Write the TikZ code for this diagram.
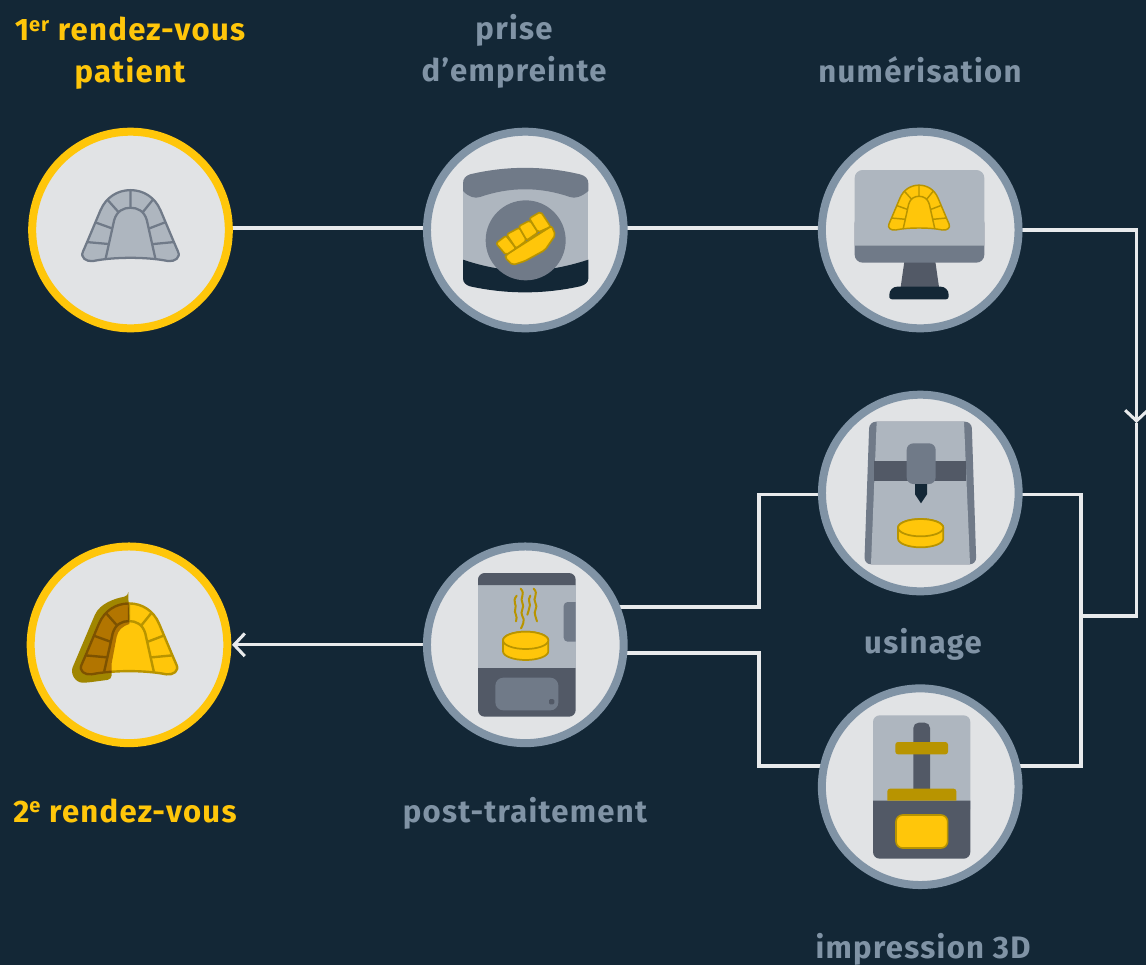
\documentclass[tikz,border=0pt]{standalone}
\usepackage{fontspec}
\setmainfont{Fira Sans}[LetterSpace=4.2]
\usetikzlibrary{arrows.meta,backgrounds,calc}
\definecolor{navy}{HTML}{132736}
\definecolor{ring}{HTML}{8093A5}
\definecolor{disk}{HTML}{E1E3E5}
\definecolor{lightg}{HTML}{AEB6BF}
\definecolor{midg}{HTML}{707A88}
\definecolor{darkg}{HTML}{525966}
\definecolor{gold}{HTML}{FFC60A}
\definecolor{olive}{HTML}{B89400}
\definecolor{wire}{HTML}{E8EAEC}
\definecolor{brown}{HTML}{B27500}
\definecolor{oliveb}{HTML}{A08600}
\tikzset{
  from/.style 2 args={shift={(#1,#2)},x=0.25pt,y=-0.25pt},
  stepdisk/.style={circle,draw=ring,fill=disk,line width=6pt,minimum size=147.5pt,inner sep=0pt,outer sep=0pt},
  keydisk/.style={stepdisk,draw=gold},
  conn/.style={draw=wire,line width=2.3pt,line join=miter},
  barb/.style={-{Straight Barb[length=8pt,width=17pt,line width=2.3pt]}},
  graylabel/.style={text=ring,font=\fontsize{23.3}{31.5}\selectfont\bfseries,align=center,inner sep=0pt},
  goldlabel/.style={graylabel,text=gold},
  cyl/.style={fill=gold,draw=olive,line width=1.3pt},
  steam/.style={draw=olive,line width=1.5pt,line cap=round},
}
\newcommand\archshape[2]{%
  \path[#1] (-114,105) .. controls (-135,108) and (-155,95) .. (-145,75) -- (-132,45) -- (-92,-50)
    .. controls (-75,-90) and (-40,-112) .. (0,-112) .. controls (40,-112) and (75,-90) .. (92,-50)
    -- (132,45) -- (145,75) .. controls (155,95) and (135,108) .. (114,105)
    .. controls (50,92) and (-50,92) .. (-114,105) -- cycle;
  \path[#2] (-76,97) -- (-50,-20) .. controls (-42,-48) and (-22,-58) .. (0,-58)
    .. controls (22,-58) and (42,-48) .. (50,-20) -- (76,97)
    (0,-112) -- (0,-58) (-70,-82) -- (-37,-45) (68,-82) -- (38,-45)
    (-107,-13) -- (-57,5) (105,-13) -- (58,5) (-134,47) -- (-67,53) (133,47) -- (70,53);
}
\newcommand\archicon[6]{%
  \begin{scope}[shift={(#1,#2)},x=#3*0.25pt,y=-#3*0.25pt,line join=round]
    \archshape{fill=#4,draw=#5,line width=#6}{draw=#5,line width=#6}
  \end{scope}}
\newcommand\sups[1]{\raisebox{0.55ex}{\fontsize{15}{15}\selectfont #1}}
\begin{document}
\begin{tikzpicture}[x=0.75pt,y=-0.75pt]
\useasboundingbox (0,0) rectangle (1146,965);
% disks
\node[keydisk]  (n1) at (130.5,230) {};
\node[stepdisk] (n2) at (525.3,230) {};
\node[stepdisk] (n3) at (920.2,230) {};
\node[stepdisk] (n4) at (920.3,493) {};
\node[stepdisk] (n5) at (920.2,786.7) {};
\node[stepdisk] (n6) at (525.3,644.8) {};
\node[keydisk]  (n7) at (129,644.8) {};
\coordinate (junction) at (1081,616);
\coordinate (corner) at (1136.5,230);
\coordinate (mark) at (1136.5,423);
\coordinate (low) at (1136.5,616);
\coordinate (jt) at (1081,494.5);
\coordinate (jb) at (1081,766);
\coordinate (ua) at (759,494.5);
\coordinate (ub) at (759,607);
\coordinate (ia) at (759,766);
\coordinate (ib) at (759,653);
\coordinate (tip7) at (232,644.8);
% connectors
\begin{scope}[on background layer]
  \fill[navy] (0,0) rectangle (1146,965);
  \draw[conn] (n1.center |- 0,228) -- (n2.center |- 0,228);
  \draw[conn] (n2.center |- 0,228) -- (n3.center |- 0,228);
  \draw[conn,barb] (n3.center |- corner) -- (corner) -- (mark);
  \draw[conn] (mark) -- (low) -- (junction);
  \draw[conn] (n4.center |- jt) -- (jt) -- (jb) -- (n5.center |- jb);
  \draw[conn] (n4.center |- ua) -- (ua) -- (ub) -- (n6.center |- ub);
  \draw[conn] (n5.center |- ia) -- (ia) -- (ib) -- (n6.center |- ib);
  \draw[conn,barb] (n6.center) -- (tip7);
\end{scope}
% icon 1
\archicon{130.5}{226.7}{0.98}{lightg}{midg}{1.7pt}
% icon 2
\begin{scope}[from={410}{115}]
  \fill[lightg] (159,200) rectangle (535,490);
  \fill[midg] (159,205) .. controls (159,190) and (168,182) .. (180,178) .. controls (290,152) and (400,152) .. (510,178)
     .. controls (525,182) and (535,190) .. (535,205) -- (535,228) .. controls (515,245) and (495,252) .. (480,246)
     .. controls (390,215) and (300,215) .. (210,246) .. controls (195,252) and (175,245) .. (159,228) -- cycle;
  \fill[navy] (159,434) .. controls (290,478) and (400,478) .. (535,434) -- (535,490) .. controls (535,503) and (525,510) .. (510,514)
     .. controls (400,538) and (290,538) .. (180,514) .. controls (168,510) and (159,503) .. (159,490) -- cycle;
  \fill[midg] (347,376) circle[radius=120];
  \begin{scope}[draw=olive,fill=gold,line width=1.2pt,line join=round]
    \filldraw[rounded corners=1.5pt] (288,420) -- (425,333) -- (436,360) -- (405,405) -- (345,438) -- (308,450) -- (285,428) -- cycle;
    \filldraw[rounded corners=1.5pt] (258,385) -- (288,362) -- (318,400) -- (288,420) -- cycle;
    \filldraw[rounded corners=1.5pt] (290,358) -- (328,338) -- (350,376) -- (318,400) -- cycle;
    \filldraw[rounded corners=1.5pt] (326,334) -- (360,316) -- (384,352) -- (350,376) -- cycle;
    \filldraw[rounded corners=1.5pt] (358,310) -- (392,290) -- (422,335) -- (384,352) -- cycle;
  \end{scope}
\end{scope}
% icon 3
\begin{scope}[from={810}{115}]
  \fill[darkg] (283,440) -- (376,440) -- (387,516) -- (272,516) -- cycle;
  \fill[midg,rounded corners=6pt] (134,300) rectangle (523,443);
  \fill[lightg] (134,392) [rounded corners=6pt] -- (134,165) -- (523,165) [sharp corners] -- (523,392) -- cycle;
  \fill[navy] (238,553) [rounded corners=2pt] -- (238,553) [rounded corners=6pt] -- (238,515) -- (416,515) [rounded corners=2pt] -- (416,553) -- cycle;
\end{scope}
\archicon{919}{208.3}{0.62}{gold}{olive}{1.1pt}
% icon 4
\begin{scope}[from={810}{380}]
  \fill[midg,rounded corners=5pt] (178,125) -- (485,125) -- (499,553) -- (163,553) -- cycle;
  \fill[lightg] (200,125) -- (462,125) -- (480,553) -- (183,553) -- cycle;
  \fill[darkg] (193,243) rectangle (468,302);
  \fill[midg,rounded corners=5pt] (290,190) rectangle (377,312);
  \fill[navy] (315,312) -- (351,312) -- (351,343) -- (333,370) -- (315,343) -- cycle;
  \path[cyl] (264,443) -- (264,476) arc[start angle=180,end angle=360,x radius=68,y radius=-26] -- (400,443) arc[start angle=0,end angle=180,x radius=68,y radius=-26] -- cycle;
  \path[cyl] (332,443) ellipse[x radius=68,y radius=26];
\end{scope}
% icon 5
\begin{scope}[from={810}{675}]
  \fill[lightg,rounded corners=5pt] (189,121) rectangle (481,420);
  \fill[darkg] (189,377) [rounded corners=5pt] -- (189,551) -- (481,551) [sharp corners] -- (481,377) -- cycle;
  \fill[darkg,rounded corners=4pt] (310,143) rectangle (360,360);
  \fill[olive,rounded corners=2pt] (256,201) rectangle (414,238);
  \fill[olive] (232,377) [rounded corners=2pt] -- (232,341) -- (439,341) [sharp corners] -- (439,377) -- cycle;
  \filldraw[fill=gold,draw=olive,line width=1.2pt,rounded corners=5pt] (258,420) rectangle (413,519);
\end{scope}
% icon 6
\begin{scope}[from={410}{530}]
  \fill[lightg] (204,165) rectangle (497,414);
  \fill[darkg] (204,165) [rounded corners=5pt] -- (204,129) -- (497,129) [sharp corners] -- (497,165) -- cycle;
  \fill[darkg] (204,414) [rounded corners=5pt] -- (204,560) -- (497,560) [sharp corners] -- (497,414) -- cycle;
  \fill[midg,rounded corners=6pt] (256,443) rectangle (445,541);
  \fill[darkg,rounded corners=1pt] (417,507) rectangle (433,523);
  \fill[midg] (497,216) [rounded corners=3pt] -- (461,216) -- (461,335) [sharp corners] -- (497,335) -- cycle;
  \draw[steam] (320,197) .. controls (305,215) and (322,225) .. (316,236) .. controls (310,248) and (325,258) .. (318,274);
  \draw[steam] (332,176) .. controls (348,192) and (328,205) .. (337,218) .. controls (346,232) and (328,245) .. (337,258) .. controls (346,270) and (338,285) .. (333,295);
  \draw[steam] (361,197) .. controls (350,212) and (365,222) .. (358,233) .. controls (354,242) and (356,248) .. (352,254);
  \draw[steam] (371,176) .. controls (388,192) and (366,205) .. (376,218) .. controls (386,232) and (368,245) .. (376,258) .. controls (378,265) and (380,268) .. (381,274);
  \path[cyl] (279,331) -- (279,364) arc[start angle=180,end angle=360,x radius=68,y radius=-26] -- (415,331) arc[start angle=0,end angle=180,x radius=68,y radius=-26] -- cycle;
  \path[cyl] (347,331) ellipse[x radius=68,y radius=26];
\end{scope}
% icon 7
\begin{scope}[from={15}{530}]
  \fill[oliveb,rounded corners=3pt] (340,198) -- (343,282) .. controls (320,290) and (310,300) .. (305,320) -- (290,400) -- (290,448) -- (215,458) .. controls (180,458) and (165,430) .. (178,400) -- (235,265) .. controls (255,220) and (300,205) .. (340,198) -- cycle;
\end{scope}
\archicon{129}{640}{0.98}{gold}{olive}{1.8pt}
\begin{scope}[from={15}{530}]
  \clip (340,198) -- (343,282) .. controls (320,290) and (310,300) .. (305,320) -- (290,400) -- (290,448) -- (215,458) .. controls (180,458) and (165,430) .. (178,400) -- (235,265) .. controls (255,220) and (300,205) .. (340,198) -- cycle;
  \begin{scope}[shift={(342,330)},scale=0.98,line join=round]
    \archshape{fill=brown,draw=brown!70!black,line width=1.8pt}{draw=brown!70!black,line width=1.8pt}
  \end{scope}
\end{scope}
% labels
\node[goldlabel,anchor=north] (t1) at (130,16.5) {1\sups{er} rendez-vous\\patient};
\node[graylabel,anchor=north] (t2) at (514,14.5) {prise\\d’empreinte};
\node[graylabel,anchor=base] (t3) at (920,82) {numérisation};
\node[graylabel,anchor=base] (t4) at (923,653) {usinage};
\node[graylabel,anchor=base] (t5) at (525,822) {post-traitement};
\node[goldlabel,anchor=base] (t6) at (125,822) {2\sups{e} rendez-vous};
\node[graylabel,anchor=base] (t7) at (923,958) {impression 3D};
\end{tikzpicture}
\end{document}
